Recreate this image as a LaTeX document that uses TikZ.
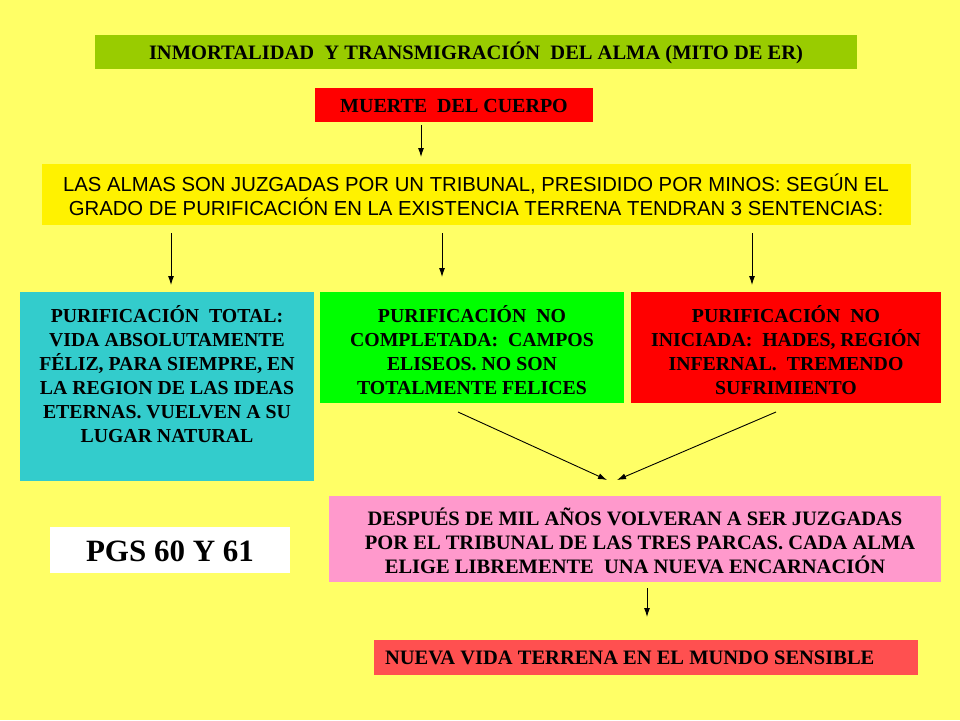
\documentclass[tikz,border=0pt]{standalone}
\usepackage{fontspec}
\setmainfont{Liberation Serif}
\newfontfamily\arial{Liberation Sans}
\usetikzlibrary{arrows.meta}
\definecolor{bg}{RGB}{255,255,102}
\definecolor{tgreen}{RGB}{153,204,0}
\definecolor{bred}{RGB}{255,0,0}
\definecolor{bcyan}{RGB}{51,204,204}
\definecolor{bgreen}{RGB}{0,255,0}
\definecolor{bpink}{RGB}{255,153,204}
\definecolor{nred}{RGB}{255,80,80}
\begin{document}
\begin{tikzpicture}[x=1pt,y=-1pt,
 box/.style={inner sep=0pt,outer sep=0pt,align=center,font=\fontsize{20.5}{24}\selectfont\bfseries},
 bt/.style={font=\fontsize{19.8}{24}\selectfont\bfseries},
 arr/.style={-{Latex[length=9pt,width=6pt]},line width=0.9pt}]
\fill[bg] (0,0) rectangle (960,720);
\useasboundingbox (0,0) rectangle (960,720);
\fill[tgreen] (95,35) rectangle (857,69);
\node[box] (t) at (476,53) {INMORTALIDAD\ \ Y TRANSMIGRACIÓN\ \ DEL ALMA (MITO DE ER)};
\fill[bred] (315,88) rectangle (593,122);
\node[box,font=\fontsize{20}{24}\selectfont\bfseries] (m) at (454,106) {MUERTE\ \ DEL CUERPO};
\fill[yellow] (42,164) rectangle (911,225);
\node[box,font=\arial\fontsize{20.3}{24}\selectfont] (a) at (476,195) {LAS ALMAS SON JUZGADAS POR UN TRIBUNAL, PRESIDIDO POR MINOS: SEGÚN EL\\GRADO DE PURIFICACIÓN EN LA EXISTENCIA TERRENA TENDRAN 3 SENTENCIAS:};
\fill[bcyan] (20,292) rectangle (314,481);
\node[box,bt] (b1) at (167,374) {PURIFICACIÓN\ \ TOTAL:\\VIDA ABSOLUTAMENTE\\FÉLIZ, PARA SIEMPRE, EN\\LA REGION DE LAS IDEAS\\ETERNAS. VUELVEN A SU\\LUGAR NATURAL};
\fill[bgreen] (320,292) rectangle (624,403);
\node[box,bt] (b2) at (472,350) {PURIFICACIÓN\ \ NO\\COMPLETADA:\ \ CAMPOS\\ELISEOS. NO SON\\TOTALMENTE FELICES};
\fill[bred] (631,292) rectangle (941,403);
\node[box,bt] (b3) at (786,350) {PURIFICACIÓN\ \ NO\\INICIADA:\ \ HADES, REGIÓN\\INFERNAL.\ \ TREMENDO\\SUFRIMIENTO};
\fill[white] (50,527) rectangle (290,573);
\node[box,font=\fontsize{31}{34}\selectfont\bfseries] (p) at (170,551) {PGS 60 Y 61};
\fill[bpink] (329,496) rectangle (941,582);
\node[box,font=\fontsize{20.5}{24}\selectfont\bfseries] (d) at (635,541) {DESPUÉS DE MIL AÑOS VOLVERAN A SER JUZGADAS\\\ \ POR EL TRIBUNAL DE LAS TRES PARCAS. CADA ALMA\\ELIGE LIBREMENTE\ \ UNA NUEVA ENCARNACIÓN};
\fill[nred] (374,640) rectangle (918,675);
\node[box,anchor=west,font=\fontsize{20.5}{24}\selectfont\bfseries] (n) at (385,658) {NUEVA VIDA TERRENA EN EL MUNDO SENSIBLE};
\coordinate (c1) at (421,125); \coordinate (c2) at (421,157);
\coordinate (c3) at (171,233); \coordinate (c4) at (171,285);
\coordinate (c5) at (442,233); \coordinate (c6) at (442,277);
\coordinate (c7) at (752,233); \coordinate (c8) at (752,285);
\coordinate (c9) at (458,412); \coordinate (c10) at (607,480);
\coordinate (c11) at (776,412); \coordinate (c12) at (617,480);
\coordinate (c13) at (647,588); \coordinate (c14) at (647,617);
\draw[arr] (c1) -- (c2);
\draw[arr] (c3) -- (c4);
\draw[arr] (c5) -- (c6);
\draw[arr] (c7) -- (c8);
\draw[arr] (c9) -- (c10);
\draw[arr] (c11) -- (c12);
\draw[arr] (c13) -- (c14);
\end{tikzpicture}
\end{document}
